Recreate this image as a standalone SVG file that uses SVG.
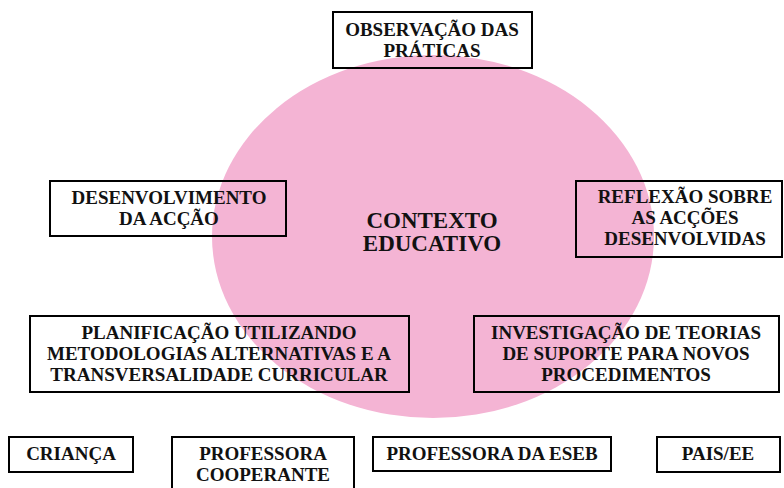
<svg xmlns="http://www.w3.org/2000/svg" width="784" height="488" viewBox="0 0 784 488">
<style>
.box{fill:none;stroke:#000;stroke-width:2}
.t{font-family:"Liberation Serif","Times New Roman",serif;font-weight:bold;font-size:19px;fill:#111;text-anchor:middle}
.c{font-size:23px}
</style>
<rect width="784" height="488" fill="#fff"/>
<g id="contexto">
<ellipse cx="433" cy="236.5" rx="221" ry="181.5" fill="#F4B4D4"/>
<text class="t c" x="432" y="228">CONTEXTO</text>
<text class="t c" x="432" y="251">EDUCATIVO</text>
</g>
<g id="connectors"></g>
<g id="observacao">
<rect class="box" x="333" y="12" width="199" height="56"/>
<text class="t" x="432" y="36">OBSERVAÇÃO DAS</text>
<text class="t" x="432" y="57">PRÁTICAS</text>
</g>
<g id="desenvolvimento">
<rect class="box" x="50" y="181" width="236" height="55"/>
<text class="t" x="169" y="204">DESENVOLVIMENTO</text>
<text class="t" x="169" y="225">DA ACÇÃO</text>
</g>
<g id="reflexao">
<rect class="box" x="576" y="181" width="206" height="76"/>
<text class="t" x="685" y="203">REFLEXÃO SOBRE</text>
<text class="t" x="685" y="224">AS ACÇÕES</text>
<text class="t" x="685" y="245">DESENVOLVIDAS</text>
</g>
<g id="planificacao">
<rect class="box" x="30" y="316" width="379" height="76"/>
<text class="t" x="219" y="339">PLANIFICAÇÃO UTILIZANDO</text>
<text class="t" x="219" y="360">METODOLOGIAS ALTERNATIVAS E A</text>
<text class="t" x="219" y="381">TRANSVERSALIDADE CURRICULAR</text>
</g>
<g id="investigacao">
<rect class="box" x="474" y="316" width="305" height="76"/>
<text class="t" x="626" y="339">INVESTIGAÇÃO DE TEORIAS</text>
<text class="t" x="626" y="360">DE SUPORTE PARA NOVOS</text>
<text class="t" x="626" y="381">PROCEDIMENTOS</text>
</g>
<g id="crianca">
<rect class="box" x="9" y="437" width="124" height="35"/>
<text class="t" x="71" y="460">CRIANÇA</text>
</g>
<g id="professora-cooperante">
<rect class="box" x="172" y="437" width="182" height="60"/>
<text class="t" x="263" y="460">PROFESSORA</text>
<text class="t" x="263" y="481">COOPERANTE</text>
</g>
<g id="professora-eseb">
<rect class="box" x="373" y="437" width="238" height="34"/>
<text class="t" x="492" y="460">PROFESSORA DA ESEB</text>
</g>
<g id="pais">
<rect class="box" x="657" y="437" width="123" height="35"/>
<text class="t" x="718" y="460">PAIS/EE</text>
</g>
</svg>
